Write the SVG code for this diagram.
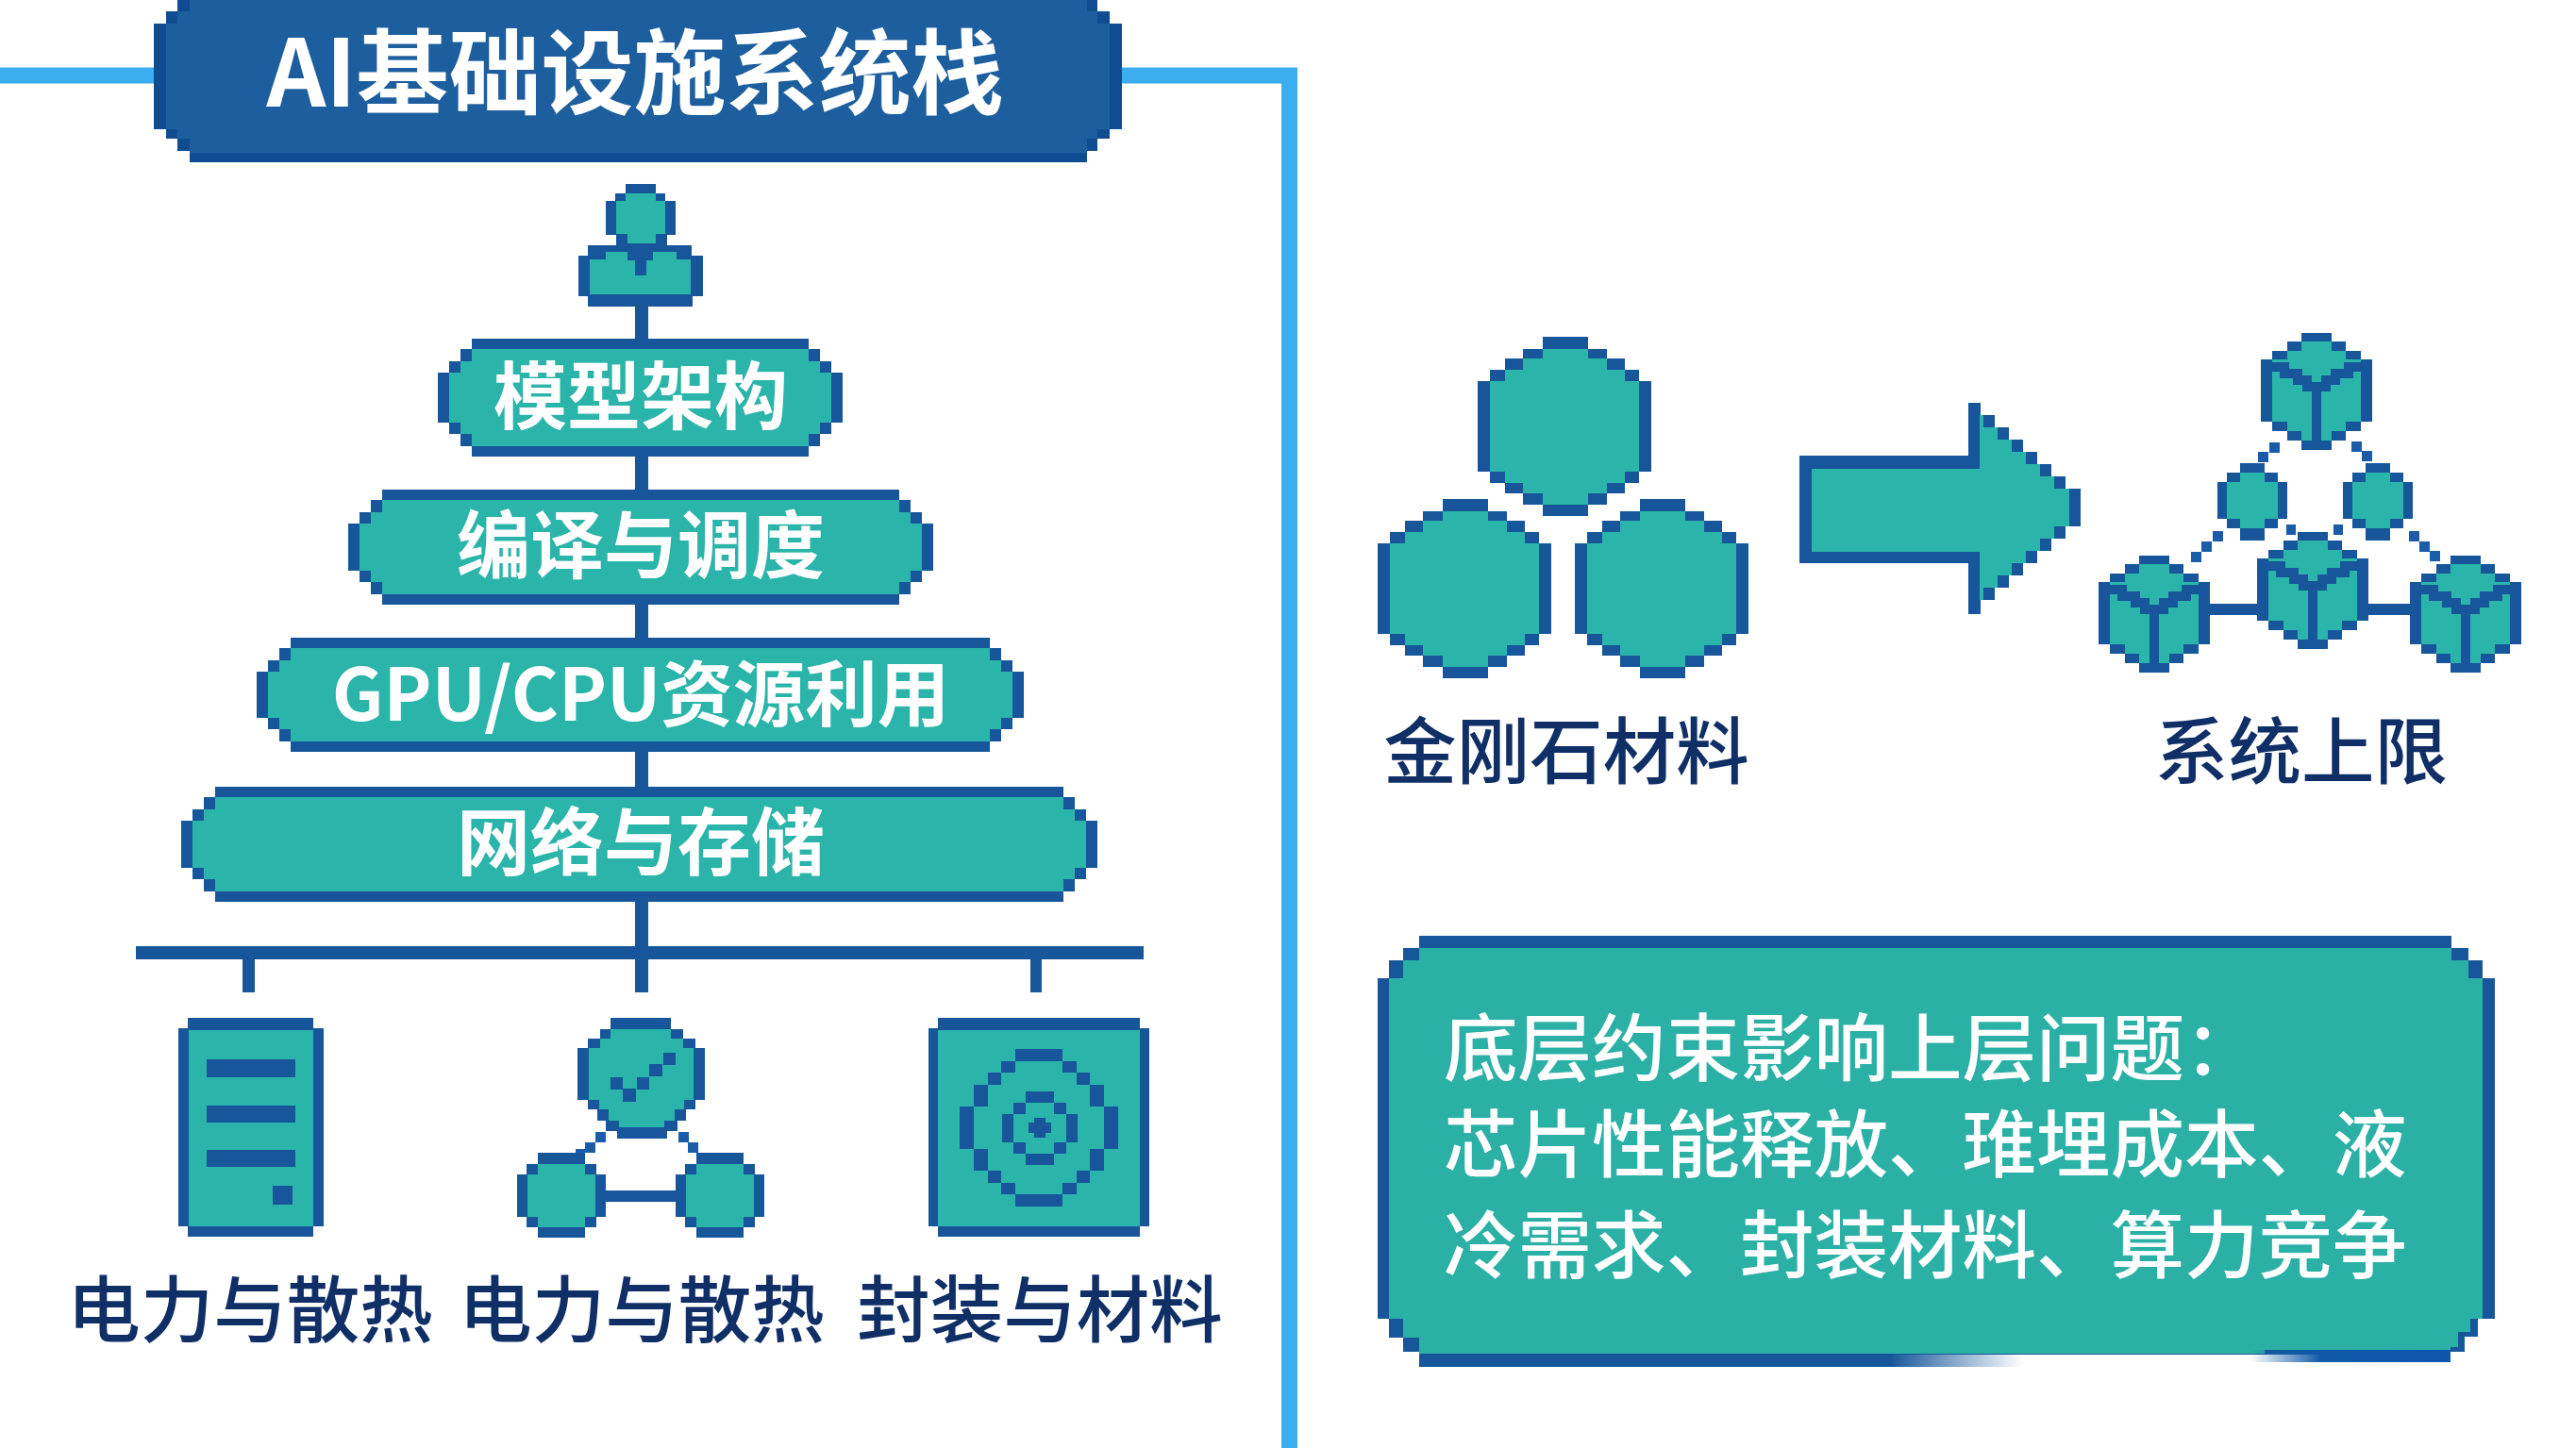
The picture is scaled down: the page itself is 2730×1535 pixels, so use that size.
<svg xmlns="http://www.w3.org/2000/svg" width="2730" height="1535" viewBox="0 0 2730 1535">
<style>
.d{fill:#17569A}.t{fill:#2BB4A9}.n{fill:#1D5F9E}.q{fill:#1A5CA8}
.ln{fill:none;stroke:#17569A;stroke-width:10}
.w,.k,.h,.b{font-family:"Noto Sans CJK SC","Noto Sans",sans-serif;text-anchor:middle}
.w{fill:#fff;font-size:78px;font-weight:700}
.k{fill:#0F2F66;font-size:77.5px;font-weight:500}
.h{fill:#fff;font-size:98px;font-weight:700}
.b{fill:#fff;font-size:78.5px;font-weight:500;text-anchor:start}
</style>
<defs>
<linearGradient id="fadeL" x1="0" x2="1" y1="0" y2="0"><stop offset="0.78" stop-color="#17569A"/><stop offset="1" stop-color="#17569A" stop-opacity="0"/></linearGradient>
<linearGradient id="fadeR" x1="0" x2="1" y1="0" y2="0"><stop offset="0" stop-color="#0F62A8" stop-opacity="0"/><stop offset="0.35" stop-color="#0F5AA8"/><stop offset="1" stop-color="#0F55AE"/></linearGradient>
<g id="hex"><path class="d" d="M1635,357H1683V370H1703V380H1722V392H1737V404H1750V500H1737V512H1722V523H1703V535H1683V547H1635V535H1614V523H1595V512H1579V500H1566V404H1579V392H1595V380H1614V370H1635Z"/><path class="t" d="M1635,370H1683V380H1703V392H1722V404H1737V500H1722V512H1703V523H1683V535H1635V523H1614V512H1595V500H1579V404H1595V392H1614V380H1635Z"/></g>
<g id="cube"><path class="d" d="M-16,0H16V9H31V19H47V28H59V94H47V104H31V114H16V124H-16V114H-31V104H-47V94H-59V28H-47V19H-31V9H-16Z"/><path class="t" d="M-16,9H16V19H31V28H47V94H31V104H16V114H-16V104H-31V94H-47V28H-31V19H-16Z"/><path class="ln" d="M-47,36H-34V43H-20V50H-10V57H10V50H20V43H34V36H47M0,57V118"/></g>
<g id="ball"><path class="d" d="M-13,0H13V10H27V20H37V59H27V69H13V82H-13V69H-27V59H-37V20H-27V10H-13Z"/><path class="t" d="M-13,10H13V20H27V59H13V69H-13V59H-27V20H-13Z"/></g>
<g id="foot"><path class="d" d="M570,1222H620V1234H632V1245H642V1290H632V1301H620V1312H570V1301H558V1290H548V1245H558V1234H570Z"/><path class="t" d="M570,1234H620V1245H631V1290H620V1301H570V1290H559V1245H570Z"/></g>
</defs>
<rect width="2730" height="1535" fill="#fff"/>
<g id="connectors">
<path d="M0,80H1366.5V1535" fill="none" stroke="#3AAEEE" stroke-width="17"/>
<rect x="673" y="320" width="14" height="732" fill="#17569A"/>
<rect x="144" y="1003" width="1068" height="14" fill="#17569A"/>
<rect x="257" y="1010" width="13" height="42" fill="#17569A"/>
<rect x="1092" y="1010" width="12" height="42" fill="#17569A"/>
<rect x="630" y="1262" width="95" height="12" fill="#17569A"/>
<rect class="q" x="631" y="1200" width="11" height="11"/><rect class="q" x="620" y="1211" width="11" height="11"/><rect class="q" x="610" y="1218" width="10" height="9"/>
<rect class="q" x="719" y="1200" width="11" height="11"/><rect class="q" x="729" y="1211" width="11" height="11"/>
<rect x="2330" y="640" width="235" height="12" fill="#17569A"/>
<rect class="q" x="2405" y="469" width="11" height="11"/><rect class="q" x="2393" y="479" width="11" height="11"/>
<rect class="q" x="2492" y="468" width="11" height="11"/><rect class="q" x="2503" y="478" width="11" height="11"/>
<rect class="q" x="2345" y="563" width="11" height="11"/><rect class="q" x="2333" y="574" width="11" height="11"/><rect class="q" x="2322" y="585" width="11" height="11"/>
<rect class="q" x="2553" y="563" width="11" height="11"/><rect class="q" x="2564" y="574" width="11" height="11"/><rect class="q" x="2575" y="584" width="11" height="11"/>
<rect class="q" x="2423" y="556" width="10" height="11"/><rect class="q" x="2473" y="556" width="10" height="11"/>
</g>
<g id="title">
<path d="M201,0H1163V12H1176V25H1189V137H1176V147H1163V160H1152V172H201V160H188V147H176V137H163V25H176V12H188V0Z" fill="#0F4C92"/>
<path class="n" d="M201,0H1152V12H1163V25H1176V137H1163V147H1152V162H201V147H188V137H176V25H188V12H201Z"/>
<text class="h" x="673" y="113">AI基础设施系统栈</text>
</g>
<g id="person">
<path class="d" d="M663,195H695V205H705V213H716V249H707V260H733V271H745V314H734V325H623V314H613V271H623V260H653V249H642V213H652V205H663Z"/>
<path class="t" d="M663,205H695V213H705V248H695V258H665V248H653V213H663Z"/>
<path class="t" d="M625,275H642V267H665V276H673V292H685V276H692V267H717V275H732V312H625Z"/>
</g>
<g id="model">
<path class="d" d="M500,359H857V370H869V383H881V395H893V448H881V460H869V473H857V484H500V473H488V460H476V448H464V395H476V383H488V370H500Z"/>
<path class="t" d="M500,370H857V383H869V395H881V448H869V460H857V473H500V460H488V448H476V395H488V383H500Z"/>
<text class="w" x="679" y="449">模型架构</text>
</g>
<g id="compile">
<path class="d" d="M405,519H953V530H965V543H977V555H989V605H977V617H965V630H953V641H405V630H393V617H381V605H369V555H381V543H393V530H405Z"/>
<path class="t" d="M405,530H953V543H965V555H977V605H965V617H953V630H405V617H393V605H381V555H393V543H405Z"/>
<text class="w" x="679" y="607">编译与调度</text>
</g>
<g id="gpu">
<path class="d" d="M308,676H1049V687H1061V700H1073V712H1085V761H1073V773H1061V786H1049V797H308V786H296V773H284V761H272V712H284V700H296V687H308Z"/>
<path class="t" d="M308,687H1049V700H1061V712H1073V761H1061V773H1049V786H308V773H296V761H284V712H296V700H308Z"/>
<text class="w" x="679" y="764" style="font-size:76.5px">GPU/CPU资源利用</text>
</g>
<g id="network">
<path class="d" d="M228,834H1127V845H1139V858H1151V870H1163V920H1151V932H1139V945H1127V956H228V945H216V932H204V920H192V870H204V858H216V845H228Z"/>
<path class="t" d="M228,845H1127V858H1139V870H1151V920H1139V932H1127V945H228V932H216V920H204V870H216V858H228Z"/>
<text class="w" x="679" y="922">网络与存储</text>
</g>
<g id="power1">
<path class="d" d="M199,1079H332V1090H343V1300H332V1311H199V1300H189V1090H199Z"/>
<rect class="t" x="200" y="1092" width="132" height="208"/>
<rect class="d" x="219" y="1123" width="94" height="19"/>
<rect class="d" x="219" y="1172" width="94" height="18"/>
<rect class="d" x="219" y="1219" width="94" height="18"/>
<rect class="d" x="289" y="1257" width="21" height="20"/>
<text class="k" x="265" y="1417">电力与散热</text>
</g>
<g id="power2">
<path class="d" d="M647,1079H711V1091H724V1101H737V1111H747V1166H737V1176H727V1188H718V1199H707V1207H654V1199H642V1188H633V1176H623V1166H612V1111H623V1101H636V1091H647Z"/>
<path class="t" d="M647,1091H711V1101H724V1111H735V1166H725V1176H715V1188H704V1195H656V1188H645V1176H635V1166H624V1111H636V1101H647Z"/>
<path class="d" d="M647,1142h13v13h-13zM660,1154h14v14h-14zM675,1142h13v13h-13zM688,1128h14v13h-14zM703,1116h13v13h-13z"/>
<use href="#foot"/><use href="#foot" x="168"/>
<text class="k" x="680" y="1417">电力与散热</text>
</g>
<g id="package">
<path class="d" d="M994,1079H1208V1090H1218V1300H1208V1311H994V1300H984V1090H994Z"/>
<rect class="t" x="994" y="1092" width="214" height="208"/>
<path class="d" d="M1076,1112H1126V1125H1141V1137H1155V1150H1170V1173H1185V1218H1170V1241H1155V1254H1141V1266H1126V1279H1076V1266H1061V1254H1047V1241H1032V1218H1017V1173H1032V1150H1047V1137H1061V1125H1076Z"/>
<path class="t" d="M1076,1125H1126V1137H1141V1150H1155V1173H1170V1218H1155V1241H1141V1254H1126V1266H1076V1254H1061V1241H1047V1218H1032V1173H1047V1150H1061V1137H1076Z"/>
<path class="d" d="M1087,1157H1117V1169H1130V1181H1142V1211H1130V1223H1117V1235H1087V1223H1074V1211H1062V1181H1074V1169H1087Z"/>
<path class="t" d="M1087,1169H1117V1181H1130V1211H1117V1223H1087V1211H1074V1181H1087Z"/>
<path class="d" d="M1096,1185H1108V1190H1114V1201H1108V1206H1096V1201H1090V1190H1096Z"/>
<text class="k" x="1102" y="1417">封装与材料</text>
</g>
<g id="diamond">
<use href="#hex"/><use href="#hex" x="-106" y="172"/><use href="#hex" x="103" y="172"/>
<text class="k" x="1660" y="825">金刚石材料</text>
</g>
<g id="arrow">
<rect class="d" x="1907" y="483" width="190" height="114"/>
<path class="d" d="M2086,427H2099V440H2114V453H2129V466H2144V479H2159V492H2174V505H2189V518H2205V558H2189V571H2174V584H2159V597H2144V610H2129V623H2114V636H2099V651H2086Z"/>
<rect class="t" x="1920" y="497" width="182" height="88"/>
<path class="t" d="M2098,440H2102V453H2117V466H2132V479H2147V492H2162V505H2177V518H2193V558H2177V571H2162V584H2147V597H2132V610H2117V623H2102V636H2098Z"/>
</g>
<g id="system">
<use href="#cube" x="2455" y="353"/>
<use href="#ball" x="2387" y="491"/><use href="#ball" x="2520" y="491"/>
<use href="#cube" x="2451" y="564"/><use href="#cube" x="2283" y="589"/><use href="#cube" x="2613" y="589"/>
<text class="k" x="2439" y="825">系统上限</text>
</g>
<g id="note">
<path class="d" d="M1504,992H2598V1005H2616V1018H2631V1037H2644V1398H2626V1417H2612V1433H2597V1436H1504V1433H1487V1418H1472V1398H1460V1037H1472V1018H1487V1005H1504Z"/>
<path d="M1504,1005H2598V1018H2616V1037H2631V1398H2618V1412H2605V1428H2597V1431H2400V1435H1504V1418H1487V1398H1472V1037H1487V1018H1504Z" fill="#2BB0A6"/>
<rect x="1504" y="1435" width="640" height="14" fill="url(#fadeL)"/>
<rect x="2385" y="1431" width="212" height="13" fill="url(#fadeR)"/>
<text class="b" x="1530" y="1140">底层约束影响上层问题：</text>
<text class="b" x="1530" y="1242">芯片性能释放、琟埋成本、液</text>
<text class="b" x="1530" y="1349">冷需求、封装材料、算力竞争</text>
</g>
</svg>
